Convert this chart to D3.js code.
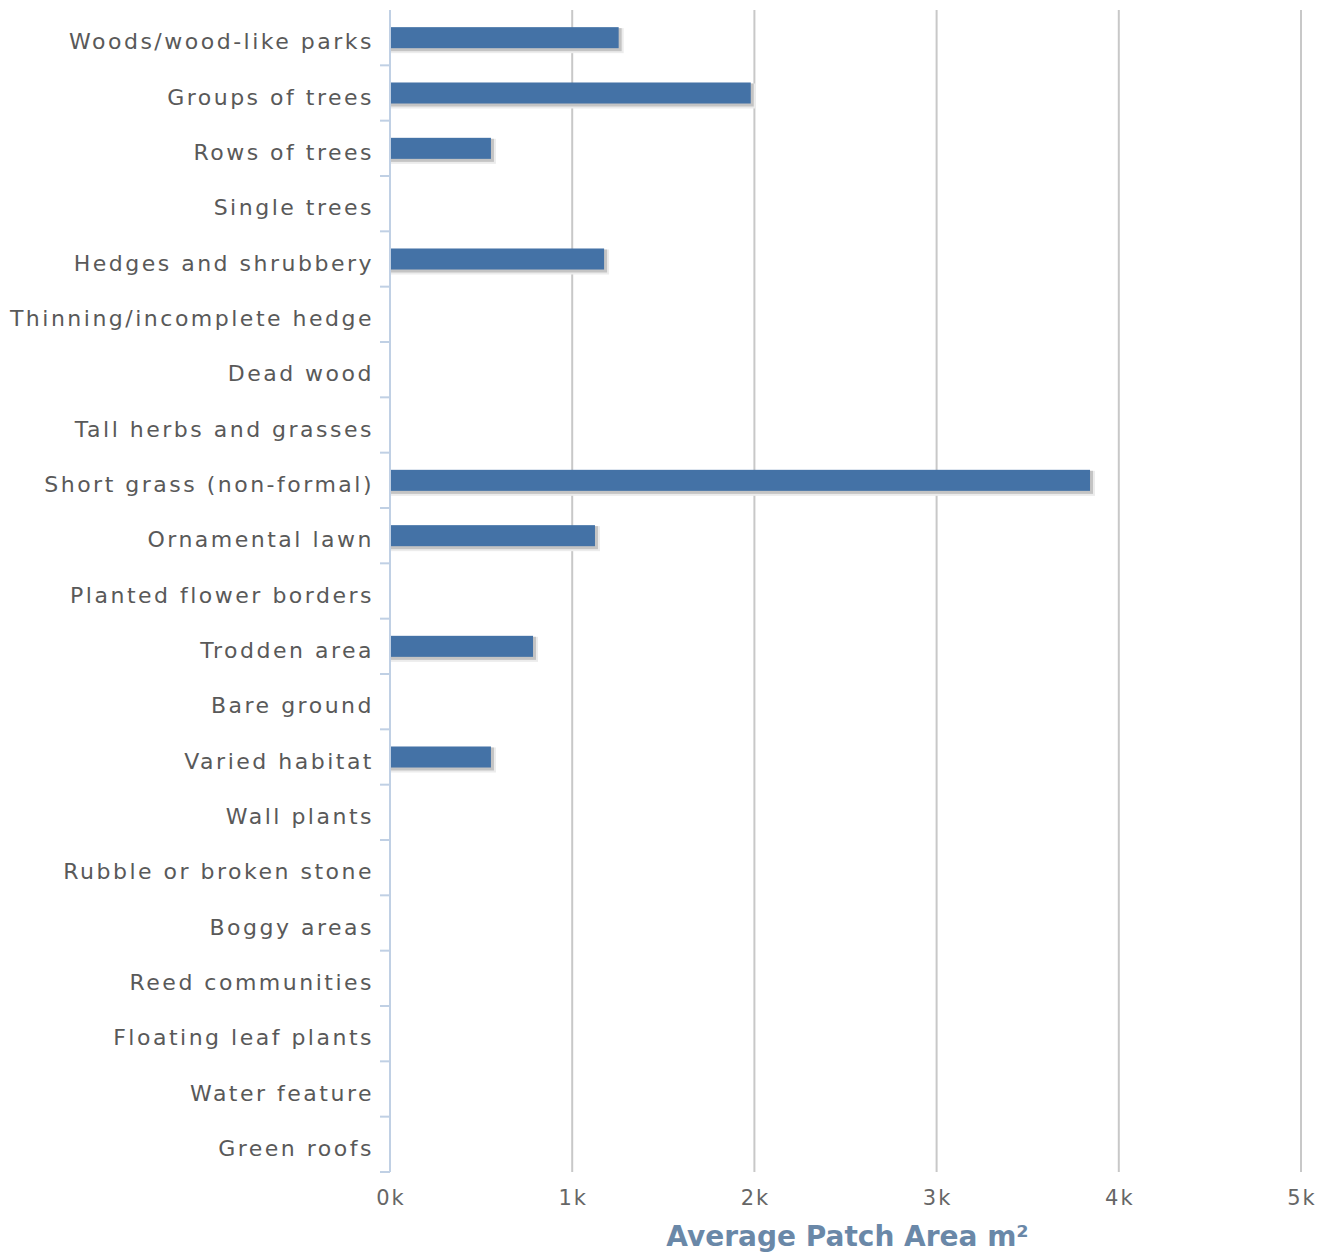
<!DOCTYPE html>
<html>
<head>
<meta charset="utf-8">
<script src="https://cdn.jsdelivr.net/npm/d3@7"></script>
<style>
  body { margin: 0; background: #fff; }
  text { font-family: "DejaVu Sans", Verdana, sans-serif; }
</style>
</head>
<body>
<div id="chart"></div>
<script>
// habitat categories, top to bottom
var categories = ["Woods/wood-like parks", "Groups of trees", "Rows of trees", "Single trees",
  "Hedges and shrubbery", "Thinning/incomplete hedge", "Dead wood", "Tall herbs and grasses",
  "Short grass (non-formal)", "Ornamental lawn", "Planted flower borders", "Trodden area",
  "Bare ground", "Varied habitat", "Wall plants", "Rubble or broken stone", "Boggy areas",
  "Reed communities", "Floating leaf plants", "Water feature", "Green roofs"];
// average patch area, m2 (0 = no bar)
var areaValues = [1255, 1980, 554, 0, 1175, 0, 0, 0, 3842, 1125, 0, 785, 0, 554, 0, 0, 0, 0, 0, 0, 0];
var xTicks = [0, 1000, 2000, 3000, 4000, 5000];
var axisTitle = "Average Patch Area m²";

var W = 1327, H = 1252;
var margin = {top: 10, right: 26, bottom: 80, left: 390};

var svg = d3.select('#chart').append('svg')
    .attr('width', W)
    .attr('height', H);

var x = d3.scaleLinear().domain([0, 5000]).range([margin.left, W - margin.right]);
var y = d3.scaleBand().domain(categories).range([margin.top, H - margin.bottom]).paddingInner(0.62).paddingOuter(0.31);
var band = d3.scaleBand().domain(categories).range([margin.top, H - margin.bottom]);

// gridlines
svg.append('g').selectAll('line')
    .data(xTicks.slice(1))
    .enter().append('line')
        .attr('x1', function(d) { return x(d); })
        .attr('x2', function(d) { return x(d); })
        .attr('y1', margin.top)
        .attr('y2', H - margin.bottom)
        .style('stroke', '#c8c8c8')
        .style('stroke-width', 2);

// bar shadows
var bars = categories.map(function(c, i) { return {cat: c, v: areaValues[i]}; }).filter(function(d) { return d.v > 0; });
svg.append('g').selectAll('rect')
    .data(bars)
    .enter().append('rect')
        .attr('x', x(0) + 1)
        .attr('y', function(d) { return y(d.cat) + 1; })
        .attr('width', function(d) { return x(d.v) - x(0) + 4; })
        .attr('height', y.bandwidth() + 4)
        .style('fill', '#ececec');
svg.append('g').selectAll('rect')
    .data(bars)
    .enter().append('rect')
        .attr('x', x(0) + 1)
        .attr('y', function(d) { return y(d.cat) + 1; })
        .attr('width', function(d) { return x(d.v) - x(0) + 2; })
        .attr('height', y.bandwidth() + 2)
        .style('fill', '#c4c4c4');

// bars
svg.append('g').selectAll('rect')
    .data(bars)
    .enter().append('rect')
        .attr('x', x(0))
        .attr('y', function(d) { return y(d.cat); })
        .attr('width', function(d) { return x(d.v) - x(0); })
        .attr('height', y.bandwidth())
        .style('fill', '#4472a6');

// y axis line and tick marks between bands
var yAxis = svg.append('g');
yAxis.append('line')
    .attr('x1', x(0)).attr('x2', x(0))
    .attr('y1', margin.top).attr('y2', H - margin.bottom)
    .style('stroke', '#c0d0e4').style('stroke-width', 2);
yAxis.selectAll('line.tick')
    .data(categories)
    .enter().append('line')
        .attr('class', 'tick')
        .attr('x1', x(0) - 10).attr('x2', x(0))
        .attr('y1', function(d) { return band(d) + band.bandwidth(); })
        .attr('y2', function(d) { return band(d) + band.bandwidth(); })
        .style('stroke', '#c0d0e4').style('stroke-width', 2);
yAxis.selectAll('text')
    .data(categories)
    .enter().append('text')
        .attr('x', x(0) - 16)
        .attr('y', function(d) { return band(d) + band.bandwidth() / 2 + 4; })
        .attr('dy', '0.35em')
        .attr('text-anchor', 'end')
        .style('font-size', '22px')
        .style('letter-spacing', '2.5px')
        .style('fill', '#595959')
        .text(function(d) { return d; });

// x tick labels
svg.append('g').selectAll('text')
    .data(xTicks)
    .enter().append('text')
        .attr('x', function(d) { return x(d) + 1; })
        .attr('y', H - margin.bottom + 33)
        .attr('text-anchor', 'middle')
        .style('font-size', '21px')
        .style('letter-spacing', '2px')
        .style('fill', '#666')
        .text(function(d) { return (d / 1000) + 'k'; });

// axis title
svg.append('text')
    .attr('x', (x(0) + x(5000)) / 2 + 2)
    .attr('y', H - 6)
    .attr('text-anchor', 'middle')
    .style('font-size', '28px')
    .style('font-weight', 'bold')
    .style('fill', '#6a88a8')
    .text(axisTitle);
</script>
</body>
</html>
